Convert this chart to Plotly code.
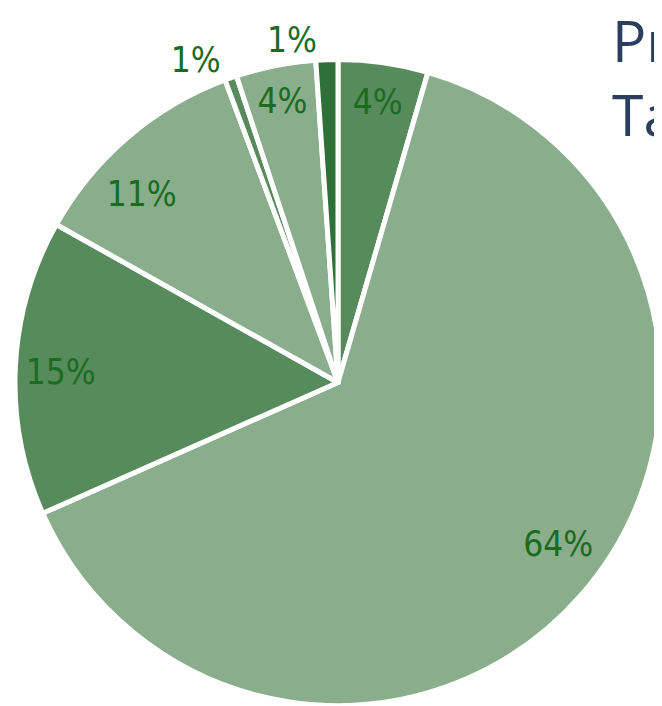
import plotly.graph_objects as go

labels = ["A", "B", "C", "D", "E", "F", "G"]
values = [4.5, 64.0, 14.8, 11.2, 0.6, 4.0, 1.1]
colors = ["#578b5b", "#8aae8c", "#578b5b", "#8aae8c", "#578b5b", "#8aae8c", "#2f7038"]
# which slices get their percentage label from which (text) layer
main_positions = ["inside", "none", "none", "none", "outside", "inside", "none"]
big_positions = ["none", "outside", "outside", "outside", "none", "none", "none"]
edge_positions = ["none", "none", "none", "none", "none", "none", "outside"]
title_lines = ["Project Status", "Task Breakdown"]

label_font = dict(family="DejaVu Sans Condensed, Liberation Sans, sans-serif", size=35, color="#1b6b20")


def text_layer(positions, domain):
    return go.Pie(
        labels=labels, values=values, sort=False, direction="clockwise", rotation=0,
        marker=dict(colors=["rgba(0,0,0,0)"] * len(values), line=dict(width=0)),
        texttemplate="%{percent:.0%}", textposition=positions, textfont=label_font,
        showlegend=False, hoverinfo="skip", domain=domain,
    )


fig = go.Figure()
fig.add_trace(go.Pie(
    labels=labels, values=values, sort=False, direction="clockwise", rotation=0,
    marker=dict(colors=colors, line=dict(color="white", width=5)),
    texttemplate="%{percent:.0%}", textposition=main_positions,
    insidetextorientation="horizontal", textfont=label_font,
    showlegend=False, hoverinfo="label+percent",
    domain=dict(x=[0, 1], y=[0, 1]),
))
fig.add_trace(text_layer(big_positions, dict(x=[0.14, 0.86], y=[0.14, 0.86])))
fig.add_trace(text_layer(edge_positions, dict(x=[0, 1], y=[0, 1])))

fig.add_annotation(
    text="<br>".join(title_lines), xref="paper", yref="paper",
    x=595 / 646, y=1 + 60 / 646, xanchor="left", yanchor="top", align="left",
    showarrow=False,
    font=dict(family="Open Sans, Liberation Sans, sans-serif", size=57, color="#2a3f5f"),
)

fig.update_layout(
    width=654, height=698,
    margin=dict(l=7, r=1, t=51, b=0, autoexpand=False),
    paper_bgcolor="white",
    uniformtext=dict(minsize=35, mode="show"),
)

fig.write_html("out.html")
